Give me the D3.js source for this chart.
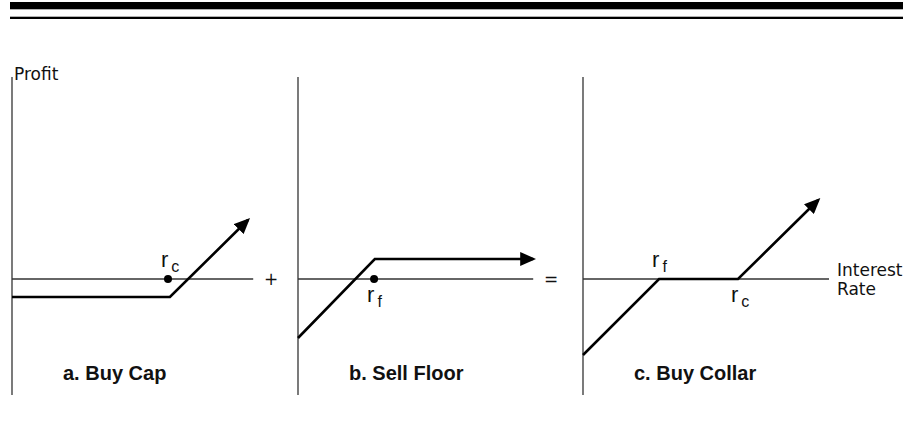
<!DOCTYPE html>
<html>
<head>
<meta charset="utf-8">
<script src="https://cdn.jsdelivr.net/npm/d3@7"></script>
<style>
  body { margin: 0; background: #fff; }
  svg text { font-family: "DejaVu Sans", sans-serif; fill: #111; }
  .title { font-family: "Liberation Sans", Arial, sans-serif; font-weight: bold; font-size: 20px; }
  .strike { font-family: "Liberation Sans", Arial, sans-serif; font-size: 22px; }
</style>
</head>
<body>
<svg id="chart" width="907" height="433"></svg>
<script>
// panel titles
const titles = ['a. Buy Cap', 'b. Sell Floor', 'c. Buy Collar'];

// payoff breakpoints (rate, profit) for each panel
const capPayoff = [[0, -0.9], [6.58, -0.9], [9.83, 2.95]];
const floorPayoff = [[0, -2.95], [3.2, 1.0], [9.8, 1.0]];
const collarPayoff = [[0, -3.8], [3.17, 0], [6.46, 0], [9.8, 3.95]];
const payoffs = [capPayoff, floorPayoff, collarPayoff];

// strike markers: [rate, label, subscript, where]
const capStrikes = [[6.5, 'r', 'c', 'above']];
const floorStrikes = [[3.17, 'r', 'f', 'below']];
const collarStrikes = [[3.17, 'r', 'f', 'above'], [6.46, 'r', 'c', 'below']];
const strikes = [capStrikes, floorStrikes, collarStrikes];

// length of the rate axis in each panel
const axisEnds = [10.05, 9.8, 10.25];
const operators = ['+', '=', ''];

const svg = d3.select('#chart');

// header rules
svg.append('rect').attr('x', 10).attr('y', 2).attr('width', 893).attr('height', 7.3).attr('fill', '#000');
svg.append('rect').attr('x', 10).attr('y', 16.7).attr('width', 893).attr('height', 2.3).attr('fill', '#000');

svg.append('defs').append('marker')
    .attr('id', 'head')
    .attr('markerUnits', 'userSpaceOnUse')
    .attr('viewBox', '0 0 16 14')
    .attr('markerWidth', 16).attr('markerHeight', 14)
    .attr('refX', 13).attr('refY', 7)
    .attr('orient', 'auto')
    .append('path')
    .attr('d', 'M0,0 L16,7 L0,14 Z')
    .attr('fill', '#000');

const y = d3.scaleLinear().domain([-5.8, 10.1]).range([395, 77]);
const panelX = [12, 298, 583];

panelX.forEach((px, i) => {
    const x = d3.scaleLinear().domain([0, 10]).range([px, px + 240]);
    const g = svg.append('g');

    // profit axis
    g.append('line')
        .attr('x1', x(0)).attr('x2', x(0))
        .attr('y1', y(10.1)).attr('y2', y(-5.8))
        .attr('stroke', '#333').attr('stroke-width', 1.3);

    // rate axis
    g.append('line')
        .attr('x1', x(0)).attr('x2', x(axisEnds[i]))
        .attr('y1', y(0)).attr('y2', y(0))
        .attr('stroke', '#333').attr('stroke-width', 1.3);

    // payoff line
    g.append('path')
        .datum(payoffs[i])
        .attr('d', d3.line().x(d => x(d[0])).y(d => y(d[1])))
        .attr('fill', 'none')
        .attr('stroke', '#000')
        .attr('stroke-width', 2.6)
        .attr('marker-end', 'url(#head)');

    // strikes
    strikes[i].forEach(s => {
        if (i < 2) {
            g.append('circle').attr('cx', x(s[0])).attr('cy', y(0)).attr('r', 4).attr('fill', '#000');
        }
        const ty = s[3] === 'above' ? y(0) - 12 : y(0) + 23;
        const t = g.append('text').attr('class', 'strike')
            .attr('x', x(s[0]) - 7).attr('y', ty);
        t.append('tspan').text(s[1]);
        t.append('tspan').attr('dx', 3).attr('dy', 5).attr('font-size', 16).text(s[2]);
    });

    if (operators[i]) {
        g.append('text')
            .attr('x', x(axisEnds[i]) + 18).attr('y', y(0) + 6)
            .attr('font-size', 17)
            .attr('text-anchor', 'middle')
            .text(operators[i]);
    }

    g.append('text').attr('class', 'title')
        .attr('x', px + 51).attr('y', 380)
        .text(titles[i]);
});

// axis titles
svg.append('text').attr('x', 14).attr('y', 80).attr('font-size', 17).text('Profit');
svg.append('text').attr('x', 837).attr('y', 276).attr('font-size', 17).text('Interest');
svg.append('text').attr('x', 837).attr('y', 295).attr('font-size', 17).text('Rate');
</script>
</body>
</html>
